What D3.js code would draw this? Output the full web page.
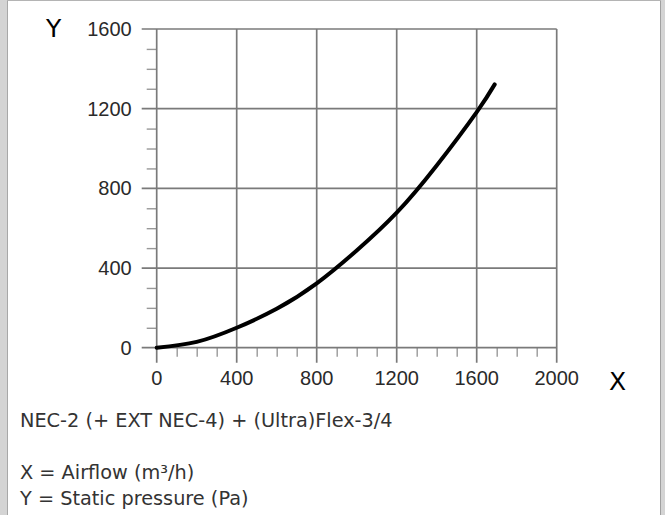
<!DOCTYPE html>
<html>
<head>
<meta charset="utf-8">
<script src="https://cdn.jsdelivr.net/npm/d3@7"></script>
<style>
	body { margin: 0; background: #fff; }
	.tick-label { font-family: "Liberation Sans", Arial, sans-serif; font-size: 20px; fill: #2a2a2a; }
	.axis-name { font-family: "DejaVu Sans", Verdana, sans-serif; font-size: 25px; fill: #000; }
	.note { font-family: "DejaVu Sans", Verdana, sans-serif; font-size: 19.3px; fill: #333; }
</style>
</head>
<body>
<div id="svg"></div>
<script>
// Curve
const airflow  = [0, 200, 400, 600, 800, 1000, 1200, 1400, 1600, 1690];
const pressure = [0, 29, 100, 195, 323, 488, 678, 915, 1183, 1322];

const xTicks = [0, 400, 800, 1200, 1600, 2000];
const yTicks = [0, 400, 800, 1200, 1600];
const minorStep = 100;

const notes = ["NEC-2 (+ EXT NEC-4) + (Ultra)Flex-3/4", "", "X = Airflow (m\u00b3/h)", "Y = Static pressure (Pa)"];

(function() {
	const W = 665, H = 515;
	const margin = {top: 29, left: 156.7},
				width = 400,
				height = 318.7;

	const svg = d3.select("#svg")
		.append("svg")
			.attr("width", W)
			.attr("height", H);

	// page frame
	svg.append("rect").attr("x", 0).attr("y", 0).attr("width", 7).attr("height", H).attr("fill", "#d4d4d4");
	svg.append("line").attr("x1", 7.5).attr("x2", 7.5).attr("y1", 0).attr("y2", H).attr("stroke", "#a8a8a8");
	svg.append("rect").attr("x", 661).attr("y", 0).attr("width", 4).attr("height", H).attr("fill", "#d4d4d4");
	svg.append("line").attr("x1", 660.5).attr("x2", 660.5).attr("y1", 0).attr("y2", H).attr("stroke", "#a0a0a0");
	svg.append("line").attr("x1", 7).attr("x2", 661).attr("y1", 0.5).attr("y2", 0.5).attr("stroke", "#b4b4b4");

	const x = d3.scaleLinear().domain([0, 2000]).range([0, width]);
	const y = d3.scaleLinear().domain([0, 1600]).range([height, 0]);

	const g = svg.append("g")
		.attr("transform", `translate(${margin.left}, ${margin.top})`);

	const gridColor = "#7a7a7a";

	// minor ticks
	const xMinor = d3.range(0, 2001, minorStep).filter(v => xTicks.indexOf(v) < 0);
	const yMinor = d3.range(0, 1601, minorStep).filter(v => yTicks.indexOf(v) < 0);

	g.append("g")
			.attr("transform", `translate(0, ${height})`)
			.call(d3.axisBottom(x).tickValues(xMinor).tickSize(9).tickFormat(""))
			.call(a => a.select(".domain").remove())
			.call(a => a.selectAll("line").attr("stroke", "#999").attr("stroke-width", 1.4));

	g.append("g")
			.call(d3.axisLeft(y).tickValues(yMinor).tickSize(10).tickFormat(""))
			.call(a => a.select(".domain").remove())
			.call(a => a.selectAll("line").attr("stroke", "#999").attr("stroke-width", 1.4));

	// grid + major ticks
	g.append("g")
		.selectAll("line")
		.data(xTicks)
		.enter()
		.append("line")
			.attr("x1", d => x(d)).attr("x2", d => x(d))
			.attr("y1", 0).attr("y2", height + 15)
			.attr("stroke", gridColor)
			.attr("stroke-width", 1.7);

	g.append("g")
		.selectAll("line")
		.data(yTicks)
		.enter()
		.append("line")
			.attr("x1", -15).attr("x2", width)
			.attr("y1", d => y(d)).attr("y2", d => y(d))
			.attr("stroke", gridColor)
			.attr("stroke-width", 1.7);

	// tick labels
	g.append("g")
		.selectAll("text")
		.data(xTicks)
		.enter()
		.append("text")
			.attr("class", "tick-label")
			.attr("x", d => x(d))
			.attr("y", height + 37)
			.style("text-anchor", "middle")
			.text(d => d);

	g.append("g")
		.selectAll("text")
		.data(yTicks)
		.enter()
		.append("text")
			.attr("class", "tick-label")
			.attr("x", -25)
			.attr("y", d => y(d))
			.attr("dy", "0.35em")
			.style("text-anchor", "end")
			.text(d => d);

	// curve
	const line = d3.line()
		.x((d, i) => x(airflow[i]))
		.y(d => y(d))
		.curve(d3.curveNatural);

	g.append("path")
		.datum(pressure)
		.attr("d", line)
		.attr("fill", "none")
		.attr("stroke", "#000")
		.attr("stroke-width", 4)
		.attr("stroke-linecap", "round");

	// axis names
	svg.append("text").attr("class", "axis-name").attr("x", 46).attr("y", 37).text("Y");
	svg.append("text").attr("class", "axis-name").attr("x", 609).attr("y", 390).text("X");

	// notes under chart
	svg.append("g")
		.selectAll("text")
		.data(notes)
		.enter()
		.append("text")
			.attr("class", "note")
			.attr("x", 20)
			.attr("y", (d, i) => 427 + i * 26)
			.text(d => d);
})();
</script>
</body>
</html>
